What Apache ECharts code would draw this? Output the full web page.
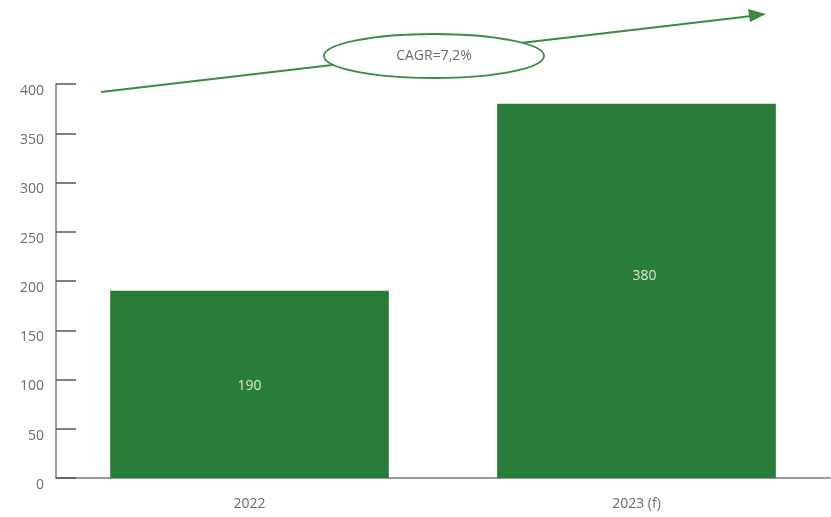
<!DOCTYPE html>
<html>
<head>
<meta charset="utf-8">
<script src="https://cdn.jsdelivr.net/npm/echarts@6/dist/echarts.min.js"></script>
<style>
html,body{margin:0;padding:0;background:#fff;}
#c{width:831px;height:517px;}
</style>
</head>
<body>
<div id="c"></div>
<script>
var categories = ['2022', '2023 (f)'];
var values = [190, 380];
var labelOffsets = [[0, 2], [8, -15]];
var cagrText = 'CAGR=7,2%';

var chart = echarts.init(document.getElementById('c'));
var font = 'Open Sans';
chart.setOption({
  animation: false,
  backgroundColor: '#ffffff',
  grid: { left: 56, right: 1, top: 84, bottom: 39 },
  xAxis: {
    type: 'category',
    data: categories,
    axisLine: { lineStyle: { color: '#7a7a7a', width: 1.5 } },
    axisTick: { inside: true, length: 8, lineStyle: { color: '#7a7a7a', width: 1.5 } },
    axisLabel: { color: '#6b6b6b', fontSize: 14, fontFamily: font, margin: 19 }
  },
  yAxis: {
    type: 'value',
    min: 0, max: 400, interval: 50,
    splitLine: { show: false },
    axisLine: { show: true, lineStyle: { color: '#7a7a7a', width: 1.5 } },
    axisTick: { show: true, inside: true, length: 20, lineStyle: { color: '#555555', width: 1.5 } },
    axisLabel: { color: '#6b6b6b', fontSize: 14, fontFamily: font, margin: 12, verticalAlign: 'top', padding: [0, 0, 0, 0] }
  },
  series: [{
    type: 'bar',
    barCategoryGap: '28%',
    data: values.map(function (v, i) {
      return { value: v, label: { offset: labelOffsets[i] } };
    }),
    itemStyle: { color: '#2a7d38' },
    label: { show: true, position: 'inside', color: '#dfe8cf', fontSize: 14, fontFamily: font }
  }],
  graphic: [
    { type: 'line', shape: { x1: 101, y1: 92, x2: 752, y2: 16 }, style: { stroke: '#3a8a3f', lineWidth: 1.8 }, z: 10 },
    { type: 'polygon', shape: { points: [[766, 14], [748, 9], [750, 22]] }, style: { fill: '#3a8a3f' }, z: 10 },
    { type: 'ellipse', shape: { cx: 434, cy: 56, rx: 110, ry: 22 }, style: { fill: '#ffffff', stroke: '#3a8a3f', lineWidth: 1.8 }, z: 11 },
    { type: 'text', x: 434, y: 56, style: { text: cagrText, fill: '#6b6b6b', fontSize: 14, fontFamily: font, align: 'center', verticalAlign: 'middle' }, z: 12 }
  ]
});
</script>
</body>
</html>
